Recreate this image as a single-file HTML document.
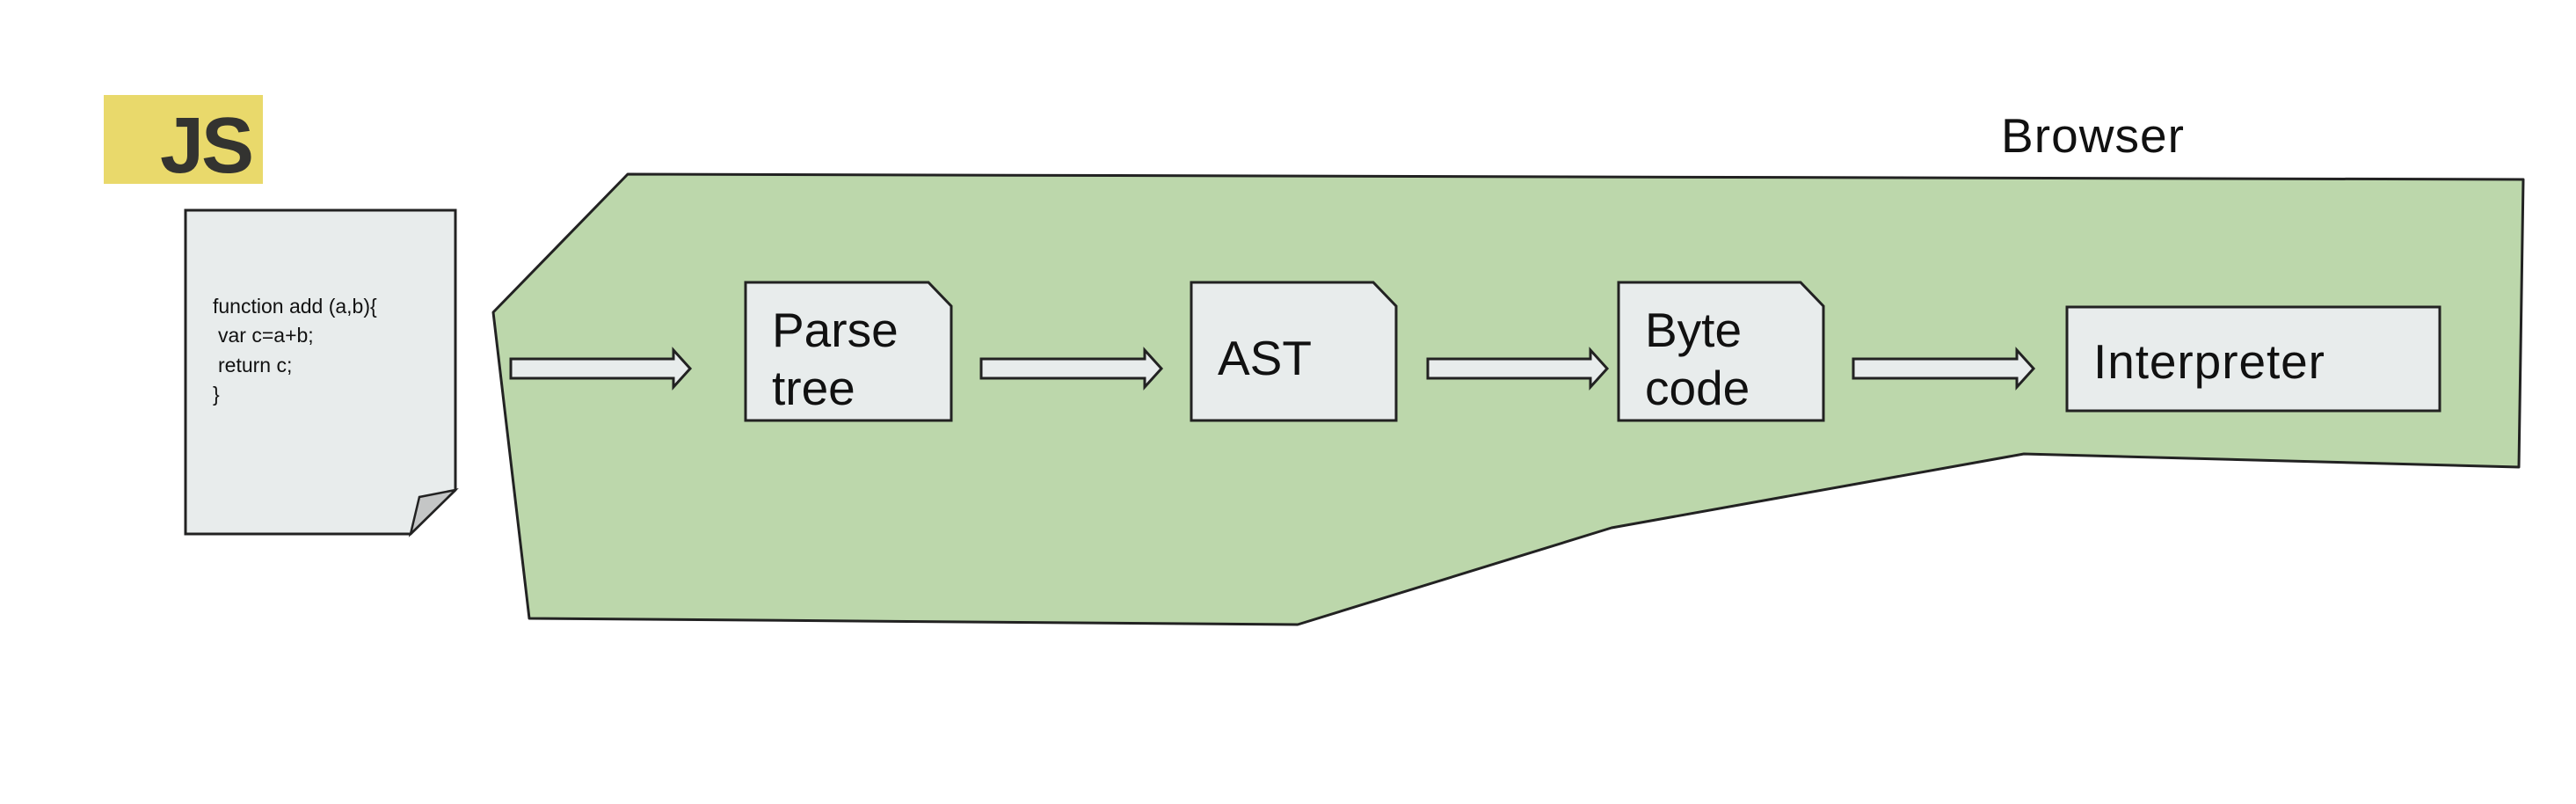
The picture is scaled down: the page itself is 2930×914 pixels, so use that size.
<!DOCTYPE html>
<html><head><meta charset="utf-8"><style>
html,body{margin:0;padding:0;background:#fff;}
svg{display:block;}
</style></head><body>
<svg width="2930" height="914" viewBox="0 0 2930 914" xmlns="http://www.w3.org/2000/svg">
<rect x="118" y="108" width="181" height="101" fill="#e9d96b"/>
<text x="182" y="196" font-family="Liberation Sans, sans-serif" font-weight="bold" font-size="90" fill="#333330" letter-spacing="-3">JS</text>
<polygon points="211,239 518,239 518,557 467,607 211,607" fill="#e8ecec" stroke="#222" stroke-width="3"/>
<polygon points="518,557 477,565 467,607" fill="#c4c6c6" stroke="#222" stroke-width="2.5"/>
<g font-family="Liberation Sans, sans-serif" font-size="23" fill="#111">
<text x="242" y="356">function add (a,b){</text>
<text x="248" y="389"> var c=a+b;</text>
<text x="248" y="423">return c;</text>
<text x="242" y="456">}</text>
</g>
<polygon points="561,355 714,198 2870,204 2865,531 2302,516 1833,600 1476,710 602,703" fill="#bcd7ab" stroke="#222" stroke-width="3" stroke-linejoin="round"/>
<text x="2276" y="173" font-family="Liberation Sans, sans-serif" font-size="55" fill="#111" textLength="208">Browser</text>
<g fill="#e8ecec" stroke="#222" stroke-width="3">
<polygon points="848,321 1056,321 1082,348 1082,478 848,478"/>
<polygon points="1355,321 1562,321 1588,348 1588,478 1355,478"/>
<polygon points="1841,321 2048,321 2074,348 2074,478 1841,478"/>
<rect x="2351" y="349" width="424" height="118"/>
</g>
<g font-family="Liberation Sans, sans-serif" font-size="55" fill="#111">
<text x="878" y="394">Parse</text>
<text x="878" y="460">tree</text>
<text x="1385" y="426">AST</text>
<text x="1871" y="394">Byte</text>
<text x="1871" y="460">code</text>
<text x="2381" y="430" textLength="263">Interpreter</text>
</g>
<g fill="#e8ecec" stroke="#222" stroke-width="3" stroke-linejoin="miter">
<polygon points="581,408 766,408 766,398 785,419 766,440 766,430 581,430"/>
<polygon points="1116,408 1302,408 1302,398 1321,419 1302,440 1302,430 1116,430"/>
<polygon points="1624,408 1809,408 1809,398 1828,419 1809,440 1809,430 1624,430"/>
<polygon points="2108,408 2294,408 2294,398 2313,419 2294,440 2294,430 2108,430"/>
</g>
</svg>
</body></html>
